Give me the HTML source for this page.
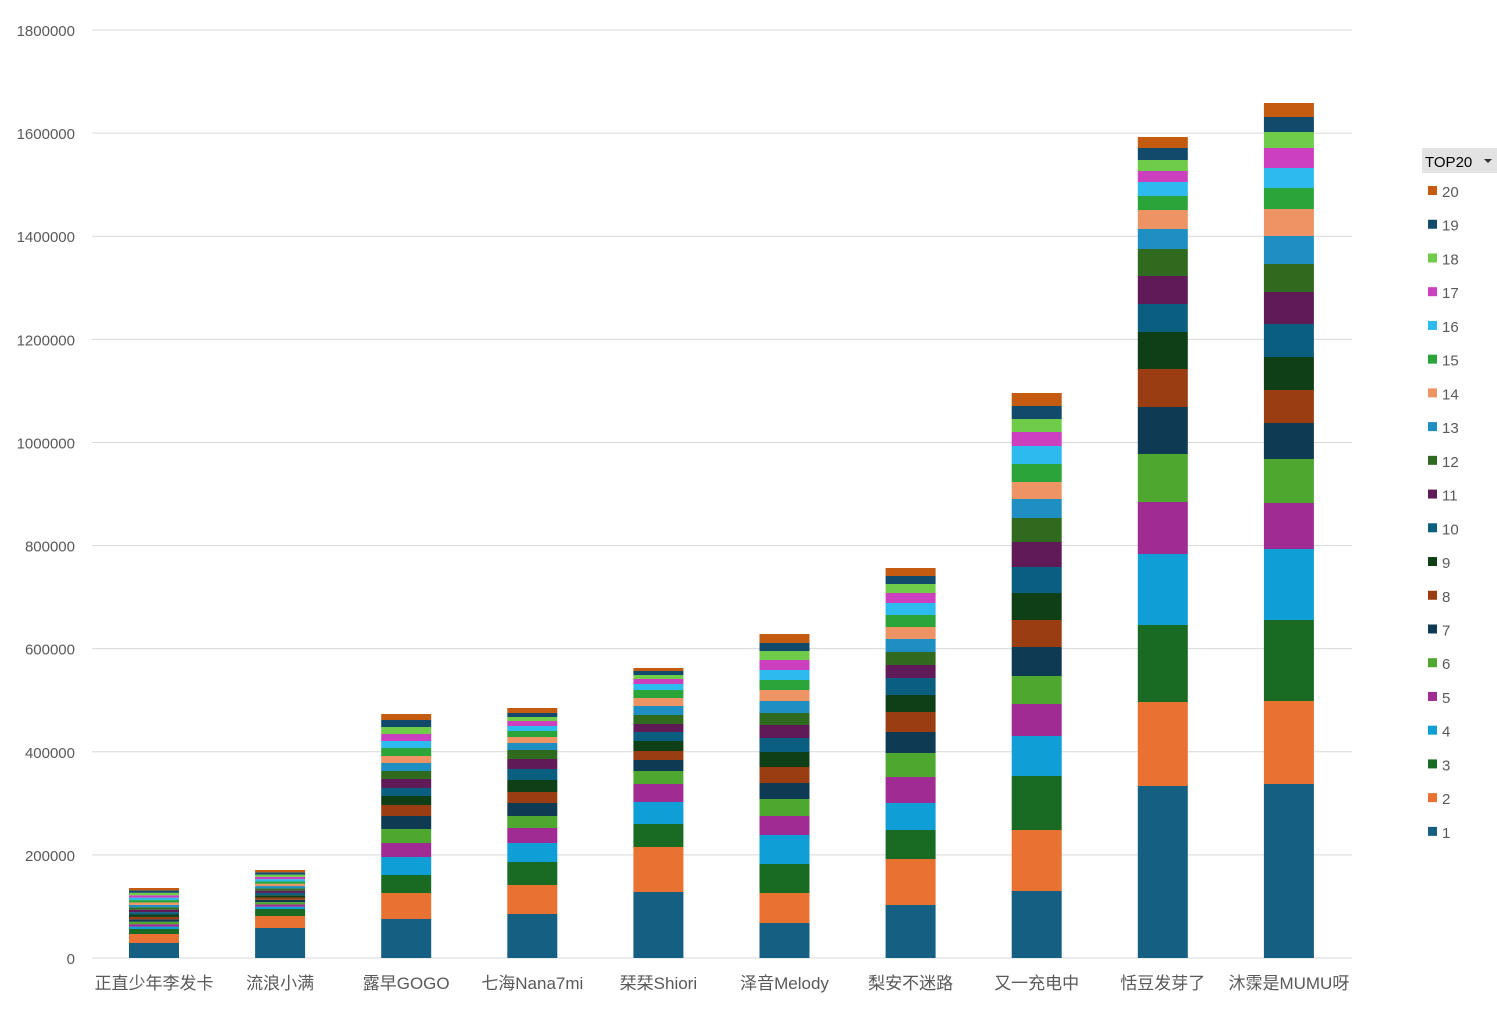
<!DOCTYPE html>
<html><head><meta charset="utf-8"><style>
body{margin:0;background:#fff;}
svg text{font-family:"Liberation Sans","Noto Sans CJK SC",sans-serif;}
</style></head><body>
<svg id="s" width="1497" height="1008" xmlns="http://www.w3.org/2000/svg"></svg>
<script>
const C=["#156082","#E97132","#196B24","#0F9ED5","#A02B93","#4EA72E","#0E3A53","#9B3D12","#0F3F17","#0A5E80","#601A58","#2F6A1E","#1F8EC2","#EE9464","#2BA439","#2DBAEE","#CC3FBE","#6FCC48","#114A6B","#C55A11"];
function thin(a,b,c,top){let r=[958,a,b,c];for(let i=1;i<=17;i++)r.push(c-(c-top)*i/17);return r;}
const B=[
thin(943,934,929,888),
thin(928,916,909,870),
[958,919,893,875,857,843,829,816,805,796,788,779,771,763,756,748,741,734,727,720,714],
[958,914,885,862,843,828,816,803,792,780,769,759,750,743,737,731,726,721,717,713,708],
[958,892,847,824,802,784,771,760,751,741,732,724,715,706,698,690,684,679,675,671,668],
[958,923,893,864,835,816,799,783,767,752,738,725,713,701,690,680,670,660,651,643,634],
[958,905,859,830,803,777,753,732,712,695,678,665,652,639,627,615,603,593,584,576,568],
[958,891,830,776,736,704,676,647,620,593,567,542,518,499,482,464,446,432,419,406,393],
[958,786,702,625,554,502,454,407,369,332,304,276,249,229,210,196,182,171,160,148,137],
[958,784,701,620,549,503,459,423,390,357,324,292,264,236,209,188,168,148,132,117,103]];
const N=["正直少年李发卡","流浪小满","露早GOGO","七海Nana7mi","栞栞Shiori","泽音Melody","梨安不迷路","又一充电中","恬豆发芽了","沐霂是MUMU呀"];
let h="";
for(let i=0;i<=9;i++){let y=958-i*103.11;h+=`<line x1="92" x2="1352" y1="${y}" y2="${y}" stroke="#d9d9d9" stroke-width="1"/>`;
h+=`<text x="75" y="${y+6}" font-size="15" fill="#595959" text-anchor="end">${i*200000}</text>`;}
B.forEach((b,k)=>{let cx=154+k*126.1;for(let j=0;j<20;j++){h+=`<rect x="${cx-25}" y="${b[j+1]}" width="50" height="${b[j]-b[j+1]}" fill="${C[j]}"/>`;}
h+=`<text x="${cx}" y="989" font-size="17" fill="#595959" text-anchor="middle">${N[k]}</text>`;});
h+=`<rect x="1422" y="148" width="75" height="25" fill="#e3e3e3"/><text x="1425" y="167" font-size="15" fill="#000">TOP20</text><path d="M1484 159 l8 0 l-4 4z" fill="#333"/>`;
for(let j=0;j<20;j++){let y=191+(19-j)*33.73;h+=`<rect x="1428" y="${y-5}" width="9" height="9" fill="${C[j]}"/><text x="1442" y="${y+6}" font-size="15" fill="#595959">${j+1}</text>`;}
document.getElementById("s").innerHTML=h;
</script>
</body></html>
